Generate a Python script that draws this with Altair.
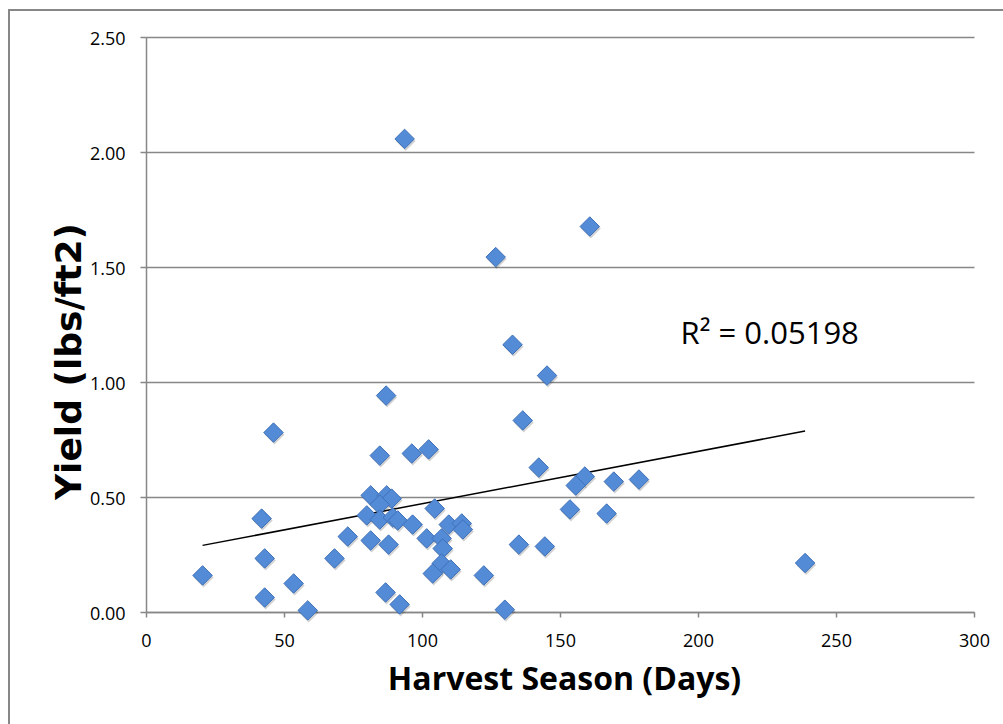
import altair as alt
import pandas as pd

# Harvest season length (days) and yield (lbs/ft2)
days = [87.0, 46.2, 84.7, 96.3, 102.4, 81.4, 87.2, 89.0, 84.7, 104.6,
        41.9, 80.0, 84.7, 89.4, 91.2, 96.6, 109.7, 114.4, 114.8, 73.1,
        81.4, 87.9, 101.7, 107.1, 107.5, 43.0, 68.3, 20.5, 107.1, 110.4,
        103.9, 122.4, 43.0, 53.5, 86.8, 91.9, 58.6, 130.0,
        145.3, 136.5, 142.3, 159.0, 155.7, 169.5, 178.6, 153.6, 166.9, 135.1, 144.5,
        93.7, 160.8, 126.7, 132.8, 238.8]
yields = [0.941, 0.780, 0.680, 0.689, 0.707, 0.507, 0.507, 0.493, 0.467, 0.450,
          0.406, 0.420, 0.402, 0.411, 0.398, 0.380, 0.380, 0.385, 0.359, 0.328,
          0.311, 0.293, 0.320, 0.320, 0.276, 0.233, 0.233, 0.159, 0.211, 0.185,
          0.167, 0.159, 0.063, 0.124, 0.085, 0.033, 0.007, 0.010,
          1.028, 0.833, 0.628, 0.589, 0.550, 0.567, 0.576, 0.446, 0.428, 0.293, 0.285,
          2.057, 1.676, 1.543, 1.162, 0.213]

x_ticks = [0, 50, 100, 150, 200, 250, 300]
y_ticks = [0.0, 0.5, 1.0, 1.5, 2.0, 2.5]

r2_label = ["R\u00b2 = 0.05198"]
r2_days = [193.7]
r2_yield = [1.166]

GRAY = "#878787"

df = pd.DataFrame({"days": days, "yield": yields})
lab = pd.DataFrame({"days": r2_days, "yield": r2_yield, "t": r2_label})

x_axis = alt.Axis(values=x_ticks, format="d", grid=False, labelFlush=False,
                  tickSize=5, tickWidth=1.5, tickColor=GRAY,
                  domainColor=GRAY, domainWidth=1.5,
                  labelFont="Open Sans", labelFontSize=18, labelColor="#000",
                  labelPadding=15,
                  title="Harvest Season (Days)", titleFont="Open Sans",
                  titleFontSize=32, titleFontWeight="bold", titleColor="#000",
                  titleX=418, titleY=77, titleAlign="center",
                  titleBaseline="alphabetic")
y_axis = alt.Axis(values=y_ticks, format=".2f", grid=True, gridColor=GRAY,
                  gridWidth=1.5, tickSize=6, tickWidth=1.5, tickColor=GRAY,
                  domainColor=GRAY, domainWidth=1.5,
                  labelFont="Open Sans", labelFontSize=18, labelColor="#000",
                  labelPadding=15, labelOffset=2,
                  title="Yield (lbs/ft2)", titleFont="DejaVu Sans",
                  titleFontSize=36, titleFontWeight="bold", titleColor="#000",
                  titleAngle=270, titleX=-66, titleY=324, titleAlign="center",
                  titleBaseline="alphabetic")

X = alt.X("days:Q", scale=alt.Scale(domain=[0, 300], nice=False, zero=False), axis=x_axis)
Y = alt.Y("yield:Q", scale=alt.Scale(domain=[0, 2.5], nice=False), axis=y_axis)

shadow = alt.Chart(df).mark_point(shape="diamond", filled=True, color="#000000",
                                  opacity=0.18, size=400, xOffset=1, yOffset=2).encode(x=X, y=Y)
points = alt.Chart(df).mark_point(shape="diamond", filled=True, fill="#538bd6",
                                  stroke="#3f71b9", strokeWidth=1, opacity=1,
                                  size=380).encode(x=X, y=Y)
trend = alt.Chart(df).transform_regression("days", "yield").mark_line(
    color="#000000", strokeWidth=1.5).encode(x=X, y=Y)
label = alt.Chart(lab).mark_text(align="left", baseline="alphabetic",
                                 font="Open Sans", fontSize=31, color="#000").encode(
    x=X, y=Y, text="t:N")

frame_df = pd.DataFrame({"k": [0]})
frame_left = alt.Chart(frame_df).mark_rule(color=GRAY, strokeWidth=2).encode(
    x=alt.value(-137), y=alt.value(-27), y2=alt.value(700))
frame_top = alt.Chart(frame_df).mark_rule(color=GRAY, strokeWidth=2).encode(
    x=alt.value(-138), x2=alt.value(870), y=alt.value(-27))

chart = alt.layer(frame_left, frame_top, trend, shadow, points, label).properties(
    width=828, height=575,
    autosize=alt.AutoSizeParams(type="none"),
    padding={"left": 146, "top": 37, "right": 29, "bottom": 112},
    background="white",
).configure_view(stroke=None)

chart.save("out.html", embed_options={"renderer": "svg", "actions": False})
